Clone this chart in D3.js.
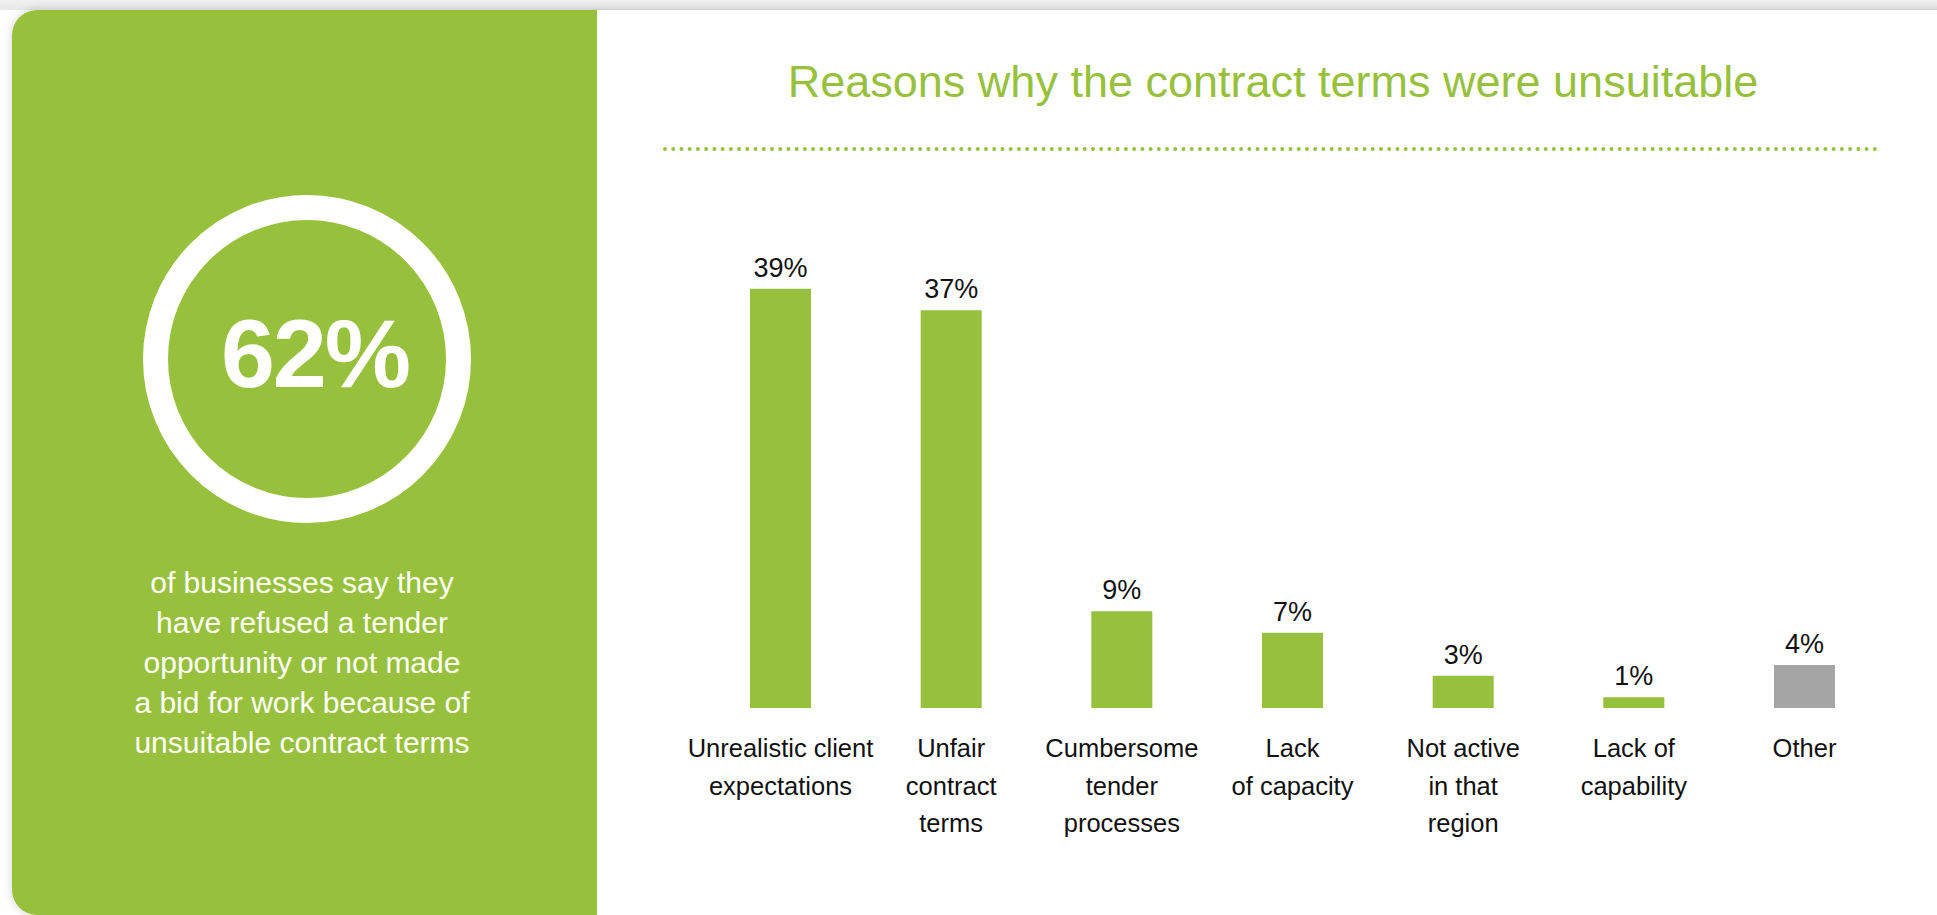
<!DOCTYPE html>
<html>
<head>
<meta charset="utf-8">
<script src="https://cdn.jsdelivr.net/npm/d3@7"></script>
<style>
  html, body { margin: 0; padding: 0; background: #ffffff; }
  svg { display: block; font-family: "Liberation Sans", Arial, sans-serif; }
</style>
</head>
<body>
<svg id="chart" width="1937" height="915"></svg>
<script>
// Survey results: reasons why contract terms were unsuitable (%)
const categories = [
  "Unrealistic client expectations",
  "Unfair contract terms",
  "Cumbersome tender processes",
  "Lack of capacity",
  "Not active in that region",
  "Lack of capability",
  "Other"
];
const categoryLines = [
  ["Unrealistic client", "expectations"],
  ["Unfair", "contract", "terms"],
  ["Cumbersome", "tender", "processes"],
  ["Lack", "of capacity"],
  ["Not active", "in that", "region"],
  ["Lack of", "capability"],
  ["Other"]
];
const values = [39, 37, 9, 7, 3, 1, 4];
const headlineValue = 62;
const headlineLines = [
  "of businesses say they",
  "have refused a tender",
  "opportunity or not made",
  "a bid for work because of",
  "unsuitable contract terms"
];
const titleText = "Reasons why the contract terms were unsuitable";

const GREEN = "#97c13d";
const GREY = "#a5a5a5";

const svg = d3.select("#chart");
const W = 1937, H = 915;

// Card shadow
const defs = svg.append("defs");
const shadow = defs.append("filter").attr("id", "cardShadow")
  .attr("x", "-5%").attr("y", "-5%").attr("width", "110%").attr("height", "110%");
shadow.append("feDropShadow").attr("dx", 0).attr("dy", 0)
  .attr("stdDeviation", 4).attr("flood-color", "#000").attr("flood-opacity", 0.18);

const topGrad = defs.append("linearGradient").attr("id", "topBand")
  .attr("x1", 0).attr("y1", 0).attr("x2", 0).attr("y2", 1);
topGrad.append("stop").attr("offset", "0%").attr("stop-color", "#f1f1f1");
topGrad.append("stop").attr("offset", "100%").attr("stop-color", "#e7e7e7");

svg.append("rect").attr("x", 0).attr("y", 0).attr("width", W).attr("height", 10)
  .attr("fill", "url(#topBand)");

// White card with rounded left corners
const cardX = 12, cardY = 10, r = 25;
function leftRounded(x, y, w, h, rad) {
  return `M${x + rad},${y} H${x + w} V${y + h} H${x + rad} ` +
         `A${rad},${rad} 0 0 1 ${x},${y + h - rad} V${y + rad} ` +
         `A${rad},${rad} 0 0 1 ${x + rad},${y} Z`;
}
svg.append("path").attr("d", leftRounded(cardX, cardY, W + 20 - cardX, H - cardY, r))
  .attr("fill", "#ffffff").attr("filter", "url(#cardShadow)");

// Green side panel
const panelW = 585;
svg.append("path").attr("d", leftRounded(cardX, cardY, panelW, H - cardY, r))
  .attr("fill", GREEN);

// Headline ring and figure
const ringCx = 307, ringCy = 359;
svg.append("circle").attr("cx", ringCx).attr("cy", ringCy).attr("r", 151.5)
  .attr("fill", "none").attr("stroke", "#ffffff").attr("stroke-width", 25);
svg.append("text").attr("x", 315).attr("y", 387)
  .attr("text-anchor", "middle").attr("fill", "#ffffff")
  .attr("font-size", 97).attr("font-weight", "bold").attr("letter-spacing", -2)
  .text(headlineValue + "%");

svg.append("g").selectAll("text").data(headlineLines).join("text")
  .attr("x", 302).attr("y", (d, i) => 593 + i * 40)
  .attr("text-anchor", "middle").attr("fill", "#ffffff").attr("font-size", 30)
  .text(d => d);

// Title and dotted rule
svg.append("text").attr("x", 1273).attr("y", 97)
  .attr("text-anchor", "middle").attr("fill", GREEN).attr("font-size", 45)
  .text(titleText);
svg.append("line").attr("x1", 665).attr("x2", 1880).attr("y1", 149).attr("y2", 149)
  .attr("stroke", GREEN).attr("stroke-width", 4).attr("stroke-linecap", "round")
  .attr("stroke-dasharray", "0 8.23");

// Bar chart
const x = d3.scaleBand().domain(categories).range([750, 1835])
  .paddingInner(0.6426).paddingOuter(0);
const y = d3.scaleLinear().domain([0, 40]).range([708, 278]);

const data = categories.map((c, i) => ({ c, v: values[i], lines: categoryLines[i] }));

svg.append("g").selectAll("rect").data(data).join("rect")
  .attr("x", d => x(d.c)).attr("width", x.bandwidth())
  .attr("y", d => y(d.v)).attr("height", d => y(0) - y(d.v))
  .attr("fill", d => d.c === "Other" ? GREY : GREEN);

svg.append("g").selectAll("text").data(data).join("text")
  .attr("x", d => x(d.c) + x.bandwidth() / 2).attr("y", d => y(d.v) - 12)
  .attr("text-anchor", "middle").attr("fill", "#111").attr("font-size", 27)
  .text(d => d.v + "%");

const labels = svg.append("g").selectAll("text").data(data).join("text")
  .attr("text-anchor", "middle").attr("fill", "#111").attr("font-size", 25.5);
labels.selectAll("tspan").data(d => d.lines.map(l => ({ l, cx: x(d.c) + x.bandwidth() / 2 })))
  .join("tspan")
  .attr("x", d => d.cx).attr("y", (d, i) => 757 + i * 37.5)
  .text(d => d.l);
</script>
</body>
</html>
